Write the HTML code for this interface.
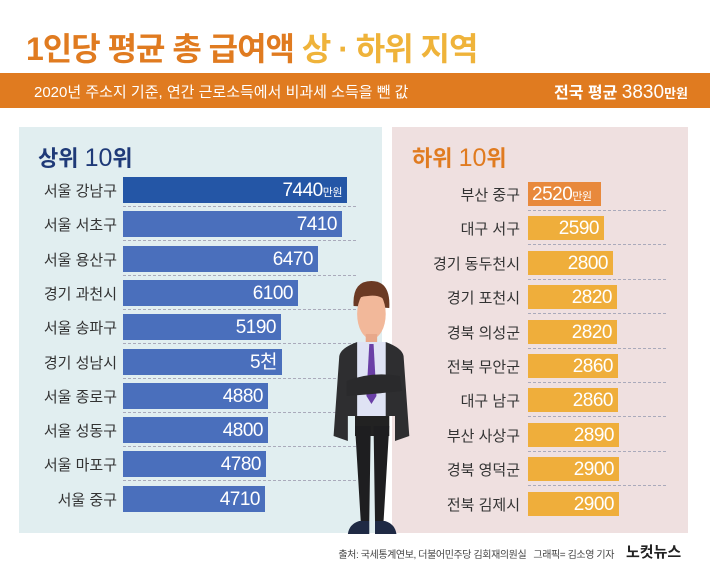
<!DOCTYPE html><html><head><meta charset="utf-8"><style>
body{margin:0;width:710px;height:577px;background:#fff;position:relative;overflow:hidden;font-family:"Liberation Sans","Noto Sans CJK KR",sans-serif}
.a{position:absolute}
.lab{position:absolute;font-size:15px;color:#333;text-align:right;white-space:nowrap}
.bar{position:absolute;color:#fff;font-size:19px;text-align:right;box-sizing:border-box;padding-right:5px;letter-spacing:-0.5px}
.bar small{font-size:11px}
.dash{position:absolute;border-top:1px dashed #aab;height:0}
</style></head><body>
<div class="a" style="left:26px;top:24px;font-size:32px;font-weight:bold;color:#e07b20;letter-spacing:-1px">1인당 평균 총 급여액 <span style="color:#efb33a">상 · 하위 지역</span></div>
<div class="a" style="left:0;top:73px;width:710px;height:35px;background:#e07b20"></div>
<div class="a" style="left:34px;top:81px;font-size:15px;color:#fff">2020년 주소지 기준, 연간 근로소득에서 비과세 소득을 뺀 값</div>
<div class="a" style="right:22px;top:79px;font-size:16px;color:#fff;font-weight:bold">전국 평균 <span style="font-size:19px;font-weight:normal">3830</span><span style="font-size:13px">만원</span></div>
<div class="a" style="left:19px;top:127px;width:363px;height:406px;background:#e1eef0"></div>
<div class="a" style="left:392px;top:127px;width:296px;height:406px;background:#efe0e0"></div>
<div class="a" style="left:38px;top:141px;font-size:22px;color:#1f3a78;font-weight:bold">상위 <span style="font-weight:normal;font-size:25px">10</span>위</div>
<div class="a" style="left:412px;top:141px;font-size:22px;color:#e07b20;font-weight:bold">하위 <span style="font-weight:normal;font-size:25px">10</span>위</div>
<div id="L"></div><div id="R"></div>
<svg class="a" style="left:325px;top:276px" width="100" height="262" viewBox="0 0 140 262" preserveAspectRatio="none">
<path d="M40 30 Q38 5 65 5 Q92 5 90 32 Z" fill="#6b3a24"/>
<ellipse cx="65" cy="38" rx="20" ry="25" fill="#f2b89a"/>
<path d="M40 26 Q45 8 65 10 Q88 10 89 28 Q80 18 60 20 Q48 20 40 26Z" fill="#6b3a24"/>
<rect x="57" y="58" width="16" height="14" fill="#e8a88a"/>
<path d="M20 80 Q22 72 45 66 L85 66 Q108 72 110 80 L118 160 L98 165 L98 140 L32 140 L32 165 L12 160 Z" fill="#2e2e30"/>
<rect x="45" y="66" width="40" height="75" fill="#dfe3f4"/>
<path d="M62 68 L68 68 L72 120 L65 128 L58 120Z" fill="#6a3fa6"/>
<path d="M30 105 Q65 95 105 100 L108 115 Q70 118 30 120Z" fill="#2a2a2c"/>
<rect x="42" y="140" width="48" height="20" fill="#222"/>
<path d="M42 150 L64 150 L62 245 L50 245Z M68 150 L90 150 L82 245 L70 245Z" fill="#1e1e20"/>
<path d="M48 245 L62 245 L62 258 L32 258 Q34 248 48 245Z M70 245 L84 245 Q98 248 100 258 L70 258Z" fill="#1f2a44"/>
</svg>
<div class="a" style="right:96px;top:546px;font-size:10px;color:#444;white-space:nowrap;letter-spacing:-0.4px">출처: 국세통계연보, 더불어민주당 김회재의원실 &nbsp; 그래픽= 김소영 기자</div>
<div class="a" style="left:626px;top:541px;font-size:15px;font-weight:bold;color:#222;white-space:nowrap">노컷뉴스</div>
<script>
var L=[["서울 강남구",7440,347],["서울 서초구",7410,342],["서울 용산구",6470,318],["경기 과천시",6100,298],["서울 송파구",5190,281],["경기 성남시","5천",282],["서울 종로구",4880,268],["서울 성동구",4800,268],["서울 마포구",4780,266],["서울 중구",4710,265]];
var R=[["부산 중구",2520,601],["대구 서구",2590,604],["경기 동두천시",2800,613],["경기 포천시",2820,617],["경북 의성군",2820,617],["전북 무안군",2860,618],["대구 남구",2860,618],["부산 사상구",2890,619],["경북 영덕군",2900,619],["전북 김제시",2900,619]];
var h="";
L.forEach(function(d,i){var y=177+i*34.3;
h+='<div class="lab" style="right:593px;top:'+(y+3)+'px">'+d[0]+'</div>';
h+='<div class="bar" style="left:123px;top:'+y+'px;width:'+(d[2]-123)+'px;height:26px;line-height:27px;background:'+(i?'#4a6fbc':'#2456a6')+'">'+d[1]+(i?'':'<small>만원</small>')+'</div>';
if(i<9)h+='<div class="dash" style="left:123px;top:'+(y+29)+'px;width:233px"></div>';});
R.forEach(function(d,i){var y=182+i*34.4;
h+='<div class="lab" style="right:190px;top:'+(y+2)+'px">'+d[0]+'</div>';
h+='<div class="bar" style="left:528px;top:'+y+'px;width:'+(d[2]-528)+'px;height:24px;line-height:25px;text-align:'+(i?'right':'left')+';padding-left:4px;background:'+(i?'#efae3b':'#e8893c')+'">'+d[1]+(i?'':'<small>만원</small>')+'</div>';
if(i<9)h+='<div class="dash" style="left:528px;top:'+(y+28)+'px;width:138px"></div>';});
document.getElementById("L").innerHTML=h;
</script>
</body></html>
